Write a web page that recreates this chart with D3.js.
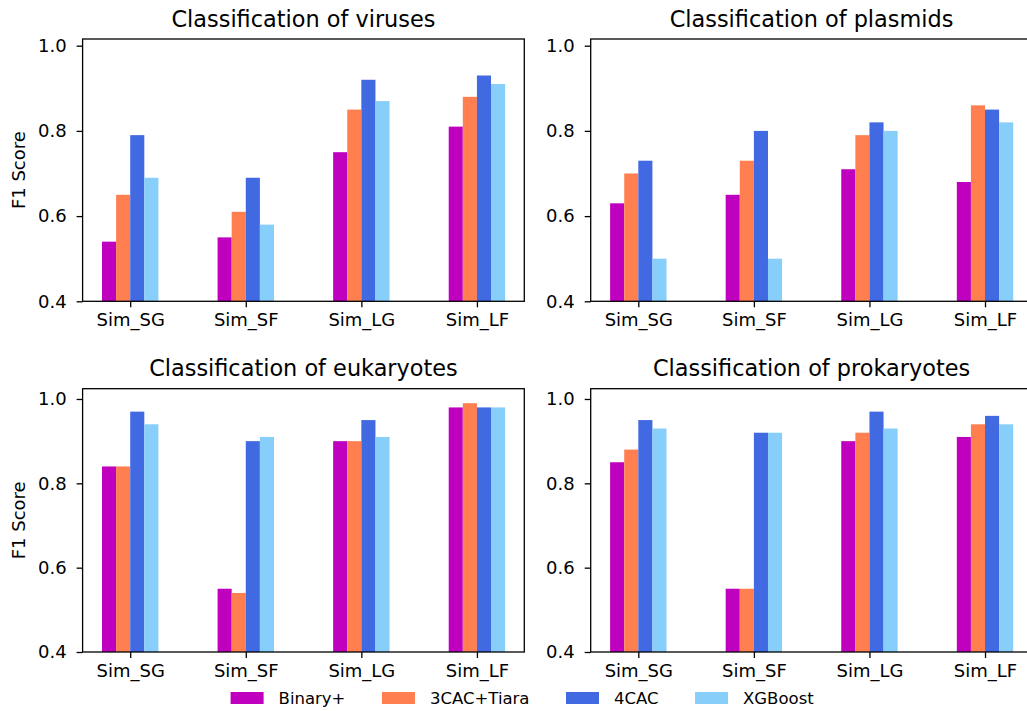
<!DOCTYPE html>
<html>
<head>
<meta charset="utf-8">
<script src="https://cdn.jsdelivr.net/npm/d3@7"></script>
<style>
  html, body { margin: 0; padding: 0; background: #ffffff; }
  svg { display: block; font-family: "DejaVu Sans", sans-serif; }
</style>
</head>
<body>
<svg id="chart" width="1027" height="711"></svg>
<script>
// Datasets on the x axis and the four classifiers compared
const categories = ["Sim_SG", "Sim_SF", "Sim_LG", "Sim_LF"];
const methods = ["Binary+", "3CAC+Tiara", "4CAC", "XGBoost"];
const methodColors = ["#bf00bf", "#ff7f50", "#4169e1", "#87cefa"];
const yTicks = [0.4, 0.6, 0.8, 1.0];

// F1 scores, one row per method (Binary+, 3CAC+Tiara, 4CAC, XGBoost)
const virusF1 = [
  [0.54, 0.55, 0.75, 0.81],
  [0.65, 0.61, 0.85, 0.88],
  [0.79, 0.69, 0.92, 0.93],
  [0.69, 0.58, 0.87, 0.91]
];
const plasmidF1 = [
  [0.63, 0.65, 0.71, 0.68],
  [0.70, 0.73, 0.79, 0.86],
  [0.73, 0.80, 0.82, 0.85],
  [0.50, 0.50, 0.80, 0.82]
];
const eukaryoteF1 = [
  [0.84, 0.55, 0.90, 0.98],
  [0.84, 0.54, 0.90, 0.99],
  [0.97, 0.90, 0.95, 0.98],
  [0.94, 0.91, 0.91, 0.98]
];
const prokaryoteF1 = [
  [0.85, 0.55, 0.90, 0.91],
  [0.88, 0.55, 0.92, 0.94],
  [0.95, 0.92, 0.97, 0.96],
  [0.93, 0.92, 0.93, 0.94]
];

const titles = [
  "Classification of viruses",
  "Classification of plasmids",
  "Classification of eukaryotes",
  "Classification of prokaryotes"
];
const panelData = [virusF1, plasmidF1, eukaryoteF1, prokaryoteF1];

// Panel geometry
const panelW = 441.7;
const colX = [82.6, 590.7];
const rows = [
  { top: 39.0, bottom: 301.3, yMax: 1.0157 },
  { top: 388.7, bottom: 652.0, yMax: 1.0244 }
];
const xDomain = [-0.412, 3.41];
const groupWidth = 0.488;
const barW = groupWidth / methods.length;

const svg = d3.select("#chart");

panelData.forEach((data, p) => {
  const col = p % 2, row = Math.floor(p / 2);
  const r = rows[row];
  const x0 = colX[col];

  const x = d3.scaleLinear().domain(xDomain).range([x0, x0 + panelW]);
  const y = d3.scaleLinear().domain([0.4, r.yMax]).range([r.bottom, r.top]);

  const g = svg.append("g");

  // Bars
  data.forEach((series, m) => {
    g.append("g")
      .attr("fill", methodColors[m])
      .selectAll("rect")
      .data(series)
      .join("rect")
      .attr("x", (d, i) => x(i + (m - methods.length / 2) * barW))
      .attr("width", x(barW) - x(0))
      .attr("y", d => y(d))
      .attr("height", d => y(0.4) - y(d));
  });

  // Axes
  const yAxis = d3.axisLeft(y)
    .tickValues(yTicks)
    .tickFormat(d3.format(".1f"))
    .tickSize(6)
    .tickSizeOuter(0)
    .tickPadding(10);
  const yg = g.append("g").attr("transform", `translate(${x0},0)`).call(yAxis);

  const xAxis = d3.axisBottom(x)
    .tickValues(d3.range(categories.length))
    .tickFormat(i => categories[i])
    .tickSize(6)
    .tickSizeOuter(0)
    .tickPadding(6);
  const xg = g.append("g").attr("transform", `translate(0,${r.bottom})`).call(xAxis);

  [yg, xg].forEach(a => {
    a.select(".domain").remove();
    a.selectAll(".tick line").attr("stroke", "#000").attr("stroke-width", 1.3);
    a.selectAll(".tick text")
      .attr("fill", "#000")
      .style("font-size", "18px")
      .style("font-family", "DejaVu Sans, sans-serif");
  });

  // Frame
  g.append("rect")
    .attr("x", x0)
    .attr("y", r.top)
    .attr("width", panelW)
    .attr("height", r.bottom - r.top)
    .attr("fill", "none")
    .attr("stroke", "#000")
    .attr("stroke-width", 1.3);

  // Title
  g.append("text")
    .attr("x", x0 + panelW / 2)
    .attr("y", r.top - 12.5)
    .attr("text-anchor", "middle")
    .style("font-size", "22.4px")
    .attr("fill", "#000")
    .text(titles[p]);

  // Y label on the left column
  if (col === 0) {
    const cy = (r.top + r.bottom) / 2;
    g.append("text")
      .attr("transform", `translate(24.5,${cy}) rotate(-90)`)
      .attr("text-anchor", "middle")
      .style("font-size", "18px")
      .attr("fill", "#000")
      .text("F1 Score");
  }
});

// Shared legend along the bottom
const legend = svg.append("g").attr("class", "legend");
const patchW = 33, patchH = 12, legendY = 692, textGap = 15, colGap = 36.5;
let lx = 230.6;
methods.forEach((name, m) => {
  const item = legend.append("g");
  item.append("rect")
    .attr("x", lx).attr("y", legendY)
    .attr("width", patchW).attr("height", patchH)
    .attr("fill", methodColors[m]);
  const t = item.append("text")
    .attr("x", lx + patchW + textGap)
    .attr("y", legendY + patchH - 0.5)
    .style("font-size", "16.5px")
    .attr("fill", "#000")
    .text(name);
  lx += patchW + textGap + t.node().getComputedTextLength() + colGap;
});
</script>
</body>
</html>
